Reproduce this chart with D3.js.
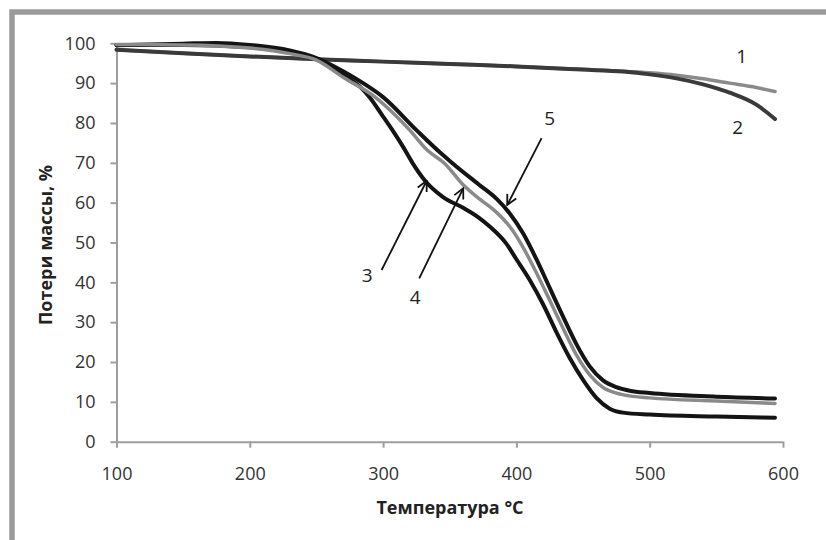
<!DOCTYPE html>
<html lang="ru">
<head>
<meta charset="utf-8">
<title>Потери массы</title>
<script src="https://cdn.jsdelivr.net/npm/d3@7/dist/d3.min.js"></script>
<style>
  body { margin: 0; background: #fff; font-family: "Open Sans", sans-serif; }
  .axis path, .axis line { stroke: #9e9e9e; stroke-width: 2; }
  .axis text { font-family: "Open Sans", sans-serif; font-size: 18px; fill: #333; }
  .title { font-family: "Open Sans", sans-serif; font-size: 18px; font-weight: bold; fill: #222; }
  .lbl { font-family: "Open Sans", sans-serif; font-size: 19px; fill: #222; }
</style>
</head>
<body>
<svg id="chart" width="826" height="540"></svg>
<script>
// temperatures (°C) and mass values (%)
const t12 = [100, 150, 200, 250, 300, 350, 400, 450, 480, 500, 520, 540, 560, 580, 594];
const curve1 = [98.4, 97.5, 96.7, 96.0, 95.4, 94.8, 94.2, 93.4, 93.0, 92.6, 92.0, 91.1, 90.0, 88.9, 87.9];
const curve2 = [98.4, 97.5, 96.7, 96.0, 95.4, 94.8, 94.2, 93.4, 92.9, 92.2, 91.2, 89.7, 87.6, 84.6, 81.0];

const t3 = [100, 150, 200, 230, 250, 270, 283, 290, 300, 307, 315, 322, 331, 345, 360, 372, 380, 392, 400, 410, 420, 430, 440, 450, 460, 470, 480, 500, 550, 594];
const curve3 = [99.6, 99.6, 99.0, 97.8, 96.0, 92.0, 89.0, 86.4, 81.6, 78.2, 74.0, 70.0, 65.7, 61.4, 58.7, 56.2, 54.0, 49.9, 45.8, 40.6, 34.5, 27.5, 21.0, 15.5, 11.0, 8.3, 7.3, 6.8, 6.3, 6.0];

const t4 = [100, 150, 200, 230, 250, 270, 294, 320, 333, 346, 360, 372, 383, 395, 405, 415, 425, 435, 445, 455, 465, 475, 485, 500, 550, 594];
const curve4 = [99.7, 99.6, 98.8, 97.4, 95.8, 91.5, 86.5, 78.2, 73.2, 69.9, 64.5, 61.0, 58.2, 54.0, 48.8, 42.4, 35.5, 28.5, 21.8, 16.8, 13.6, 12.2, 11.5, 11.0, 10.2, 9.6];

const t5 = [100, 150, 175, 200, 230, 250, 270, 285, 300, 325, 343, 352, 372, 385, 395, 405, 415, 425, 435, 445, 455, 465, 475, 485, 500, 550, 594];
const curve5 = [99.5, 99.9, 100.1, 99.6, 98.2, 96.3, 93.0, 90.0, 86.5, 78.2, 72.5, 69.9, 64.5, 61.0, 57.3, 52.3, 45.8, 38.6, 31.4, 24.5, 18.9, 15.4, 13.7, 12.8, 12.2, 11.3, 10.85];

const xTicks = [100, 200, 300, 400, 500, 600];
const yTicks = [0, 10, 20, 30, 40, 50, 60, 70, 80, 90, 100];

// curve numbers: label position, arrow start and arrow tip (data units)
const labelText = ["1", "2", "3", "4", "5"];
const labelT = [569, 566, 288, 324, 425];
const labelV = [96.7, 79.0, 41.8, 36.3, 81.3];
const arrowFromT = [298.9, 327.1, 418.9];
const arrowFromV = [43.1, 41.0, 76.2];
const arrowToT = [332.7, 360.1, 393.1];
const arrowToV = [65.5, 63.6, 59.4];

const svg = d3.select("#chart");

// grey frame, cut by the right and bottom edges
svg.append("rect")
  .attr("x", 12).attr("y", 12)
  .attr("width", 900).attr("height", 700)
  .attr("fill", "none").attr("stroke", "#9a9a9a").attr("stroke-width", 5.5);

const x = d3.scaleLinear().domain([100, 600]).range([116.5, 783]);
const y = d3.scaleLinear().domain([0, 100]).range([441.7, 43.3]);

svg.append("g")
  .attr("class", "axis")
  .attr("transform", "translate(0," + y(0) + ")")
  .call(d3.axisBottom(x).tickValues(xTicks).tickSize(6).tickSizeOuter(0).tickPadding(20))
  .call(g => g.selectAll(".tick text").attr("dy", "0.71em"));

svg.append("g")
  .attr("class", "axis")
  .attr("transform", "translate(" + x(100) + ",0)")
  .call(d3.axisLeft(y).tickValues(yTicks).tickSize(6).tickSizeOuter(0).tickPadding(15));

svg.append("text")
  .attr("class", "title")
  .attr("x", 450).attr("y", 514)
  .attr("text-anchor", "middle")
  .text("Температура °C");

svg.append("text")
  .attr("class", "title")
  .attr("transform", "translate(52,245) rotate(-90)")
  .attr("text-anchor", "middle")
  .text("Потери массы, %");

const line = d3.line()
  .x(d => x(d[0]))
  .y(d => y(d[1]))
  .curve(d3.curveMonotoneX);

const series = [
  { t: t12, v: curve1, color: "#8a8a8a", w: 3.5 },
  { t: t12, v: curve2, color: "#3a3a3a", w: 4 },
  { t: t5, v: curve5, color: "#141414", w: 4 },
  { t: t3, v: curve3, color: "#141414", w: 4 },
  { t: t4, v: curve4, color: "#8a8a8a", w: 3.5 }
];

series.forEach(s => {
  svg.append("path")
    .datum(s.t.map((t, i) => [t, s.v[i]]))
    .attr("fill", "none")
    .attr("stroke", s.color)
    .attr("stroke-width", s.w)
    .attr("stroke-linecap", "round")
    .attr("d", line);
});

// open arrowheads
svg.append("defs").append("marker")
  .attr("id", "arr")
  .attr("viewBox", "0 0 12 12")
  .attr("refX", 11).attr("refY", 6)
  .attr("markerWidth", 12).attr("markerHeight", 12)
  .attr("markerUnits", "userSpaceOnUse")
  .attr("orient", "auto")
  .append("path")
  .attr("d", "M1,1 L11,6 L1,11")
  .attr("fill", "none")
  .attr("stroke", "#111")
  .attr("stroke-width", 1.8);

arrowFromT.forEach((t0, i) => {
  svg.append("line")
    .attr("x1", x(t0)).attr("y1", y(arrowFromV[i]))
    .attr("x2", x(arrowToT[i])).attr("y2", y(arrowToV[i]))
    .attr("stroke", "#111").attr("stroke-width", 1.8)
    .attr("marker-end", "url(#arr)");
});

labelText.forEach((s, i) => {
  svg.append("text")
    .attr("class", "lbl")
    .attr("x", x(labelT[i])).attr("y", y(labelV[i]))
    .attr("text-anchor", "middle")
    .attr("dy", "0.36em")
    .text(s);
});
</script>
</body>
</html>
